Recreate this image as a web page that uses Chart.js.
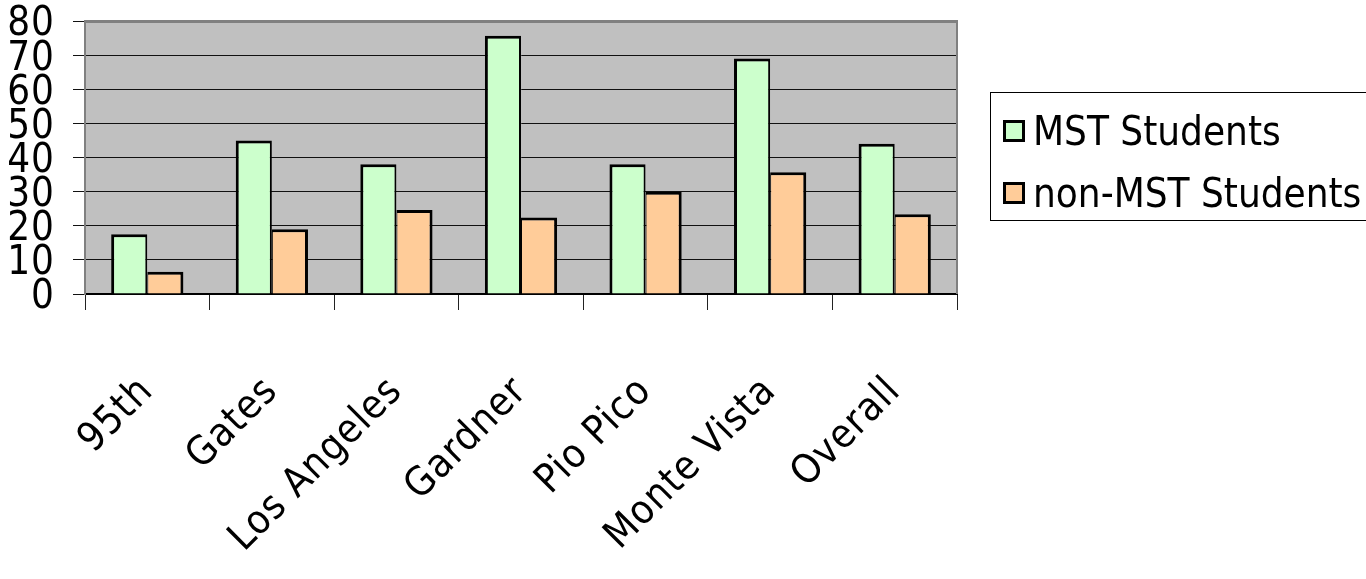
<!DOCTYPE html>
<html>
<head>
<meta charset="utf-8">
<script src="https://cdn.jsdelivr.net/npm/chart.js@4.4.1/dist/chart.umd.min.js"></script>
<style>
  html, body { margin: 0; padding: 0; background: #fff; overflow: hidden; }
  #wrap { width: 1366px; height: 579px; }
</style>
</head>
<body>
<div id="wrap"><canvas id="chart" width="1366" height="579"></canvas></div>
<script>
// Survey results by school
const schools = ['95th', 'Gates', 'Los Angeles', 'Gardner', 'Pio Pico', 'Monte Vista', 'Overall'];
const mstStudents = [17.5, 45, 38, 75.7, 38, 69, 44];
const nonMstStudents = [6.5, 19, 24.6, 22.4, 30, 35.7, 23.4];
const yTickValues = [0, 10, 20, 30, 40, 50, 60, 70, 80];
const seriesNames = ['MST Students', 'non-MST Students'];

const FONT = "'Liberation Sans Narrow', 'DejaVu Sans Condensed', 'Liberation Sans', sans-serif";
const SPACING = '1px';

// Slightly spaced narrow lettering, re-applied after any canvas reset
const lettering = {
  id: 'lettering',
  beforeUpdate(chart) { chart.ctx.letterSpacing = SPACING; },
  beforeDraw(chart) { chart.ctx.letterSpacing = SPACING; }
};

// Grey plot backdrop and the right-hand frame edge
const plotFrame = {
  id: 'plotFrame',
  beforeDraw(chart) {
    const { ctx, chartArea: a } = chart;
    ctx.save();
    ctx.fillStyle = '#c0c0c0';
    ctx.fillRect(a.left, a.top, a.right - a.left, a.bottom - a.top);
    ctx.restore();
  },
  afterDatasetsDraw(chart) {
    const { ctx, chartArea: a } = chart;
    ctx.save();
    ctx.strokeStyle = '#808080';
    ctx.lineWidth = 2;
    ctx.beginPath();
    ctx.moveTo(a.right, a.top - 1);
    ctx.lineTo(a.right, a.bottom);
    ctx.stroke();
    ctx.restore();
  }
};

// Boxed legend to the right of the plot
const boxedLegend = {
  id: 'boxedLegend',
  afterDraw(chart) {
    const { ctx, chartArea: a } = chart;
    const left = a.right + 33;
    const top = 92;
    ctx.save();
    ctx.letterSpacing = '0px';
    ctx.strokeStyle = '#000';
    ctx.lineWidth = 1;
    ctx.strokeRect(left + 0.5, top + 0.5, 440, 128);
    ctx.font = '40px ' + FONT;
    ctx.textAlign = 'left';
    ctx.textBaseline = 'alphabetic';
    chart.data.datasets.forEach((ds, i) => {
      const cy = top + 39 + i * 62;
      ctx.fillStyle = '#000';
      ctx.fillRect(left + 13, cy - 11, 22, 22);
      ctx.fillStyle = ds.backgroundColor;
      ctx.fillRect(left + 16, cy - 8, 16, 16);
      ctx.fillStyle = '#000';
      ctx.fillText(ds.label, left + 43, cy + 14);
    });
    ctx.restore();
  }
};

new Chart(document.getElementById('chart'), {
  type: 'bar',
  data: {
    labels: schools,
    datasets: [
      {
        label: seriesNames[0],
        data: mstStudents,
        backgroundColor: '#ccffcc',
        borderColor: '#000',
        borderWidth: { top: 3, left: 3, right: 2, bottom: 0 },
        borderSkipped: false
      },
      {
        label: seriesNames[1],
        data: nonMstStudents,
        backgroundColor: '#ffcc99',
        borderColor: '#000',
        borderWidth: { top: 3, left: 1, right: 3, bottom: 0 },
        borderSkipped: false
      }
    ]
  },
  options: {
    responsive: false,
    animation: false,
    events: [],
    layout: { padding: { top: 21, right: 409, left: 0, bottom: 0 } },
    plugins: { legend: { display: false }, tooltip: { enabled: false } },
    datasets: { bar: { categoryPercentage: 0.58, barPercentage: 1.0 } },
    scales: {
      x: {
        offset: true,
        afterFit(scale) { scale.height = 285; },
        grid: {
          offset: true,
          drawOnChartArea: false,
          drawTicks: true,
          tickLength: 16,
          tickColor: '#222',
          tickWidth: 1
        },
        border: { display: true, color: '#000', width: 2 },
        ticks: {
          autoSkip: false,
          minRotation: 45,
          maxRotation: 45,
          padding: 61,
          color: '#000',
          font: { family: FONT, size: 40, lineHeight: 1 }
        }
      },
      y: {
        min: 0,
        max: 80,
        afterFit(scale) {
          scale.width = 85;
          scale.paddingTop = 0;
          scale.paddingBottom = 0;
        },
        afterBuildTicks(scale) { scale.ticks = yTickValues.map(v => ({ value: v })); },
        grid: {
          color: c => (c.tick && c.tick.value === 80 ? '#808080' : '#111'),
          lineWidth: c => (c.tick && c.tick.value === 80 ? 3 : 1),
          tickLength: 12,
          tickColor: '#111',
          tickWidth: 1
        },
        border: { display: true, color: '#808080', width: 2 },
        ticks: {
          autoSkip: false,
          padding: 18,
          labelOffset: 4,
          color: '#000',
          font: { family: FONT, size: 40, lineHeight: 1 }
        }
      }
    }
  },
  plugins: [lettering, plotFrame, boxedLegend]
});
</script>
</body>
</html>
